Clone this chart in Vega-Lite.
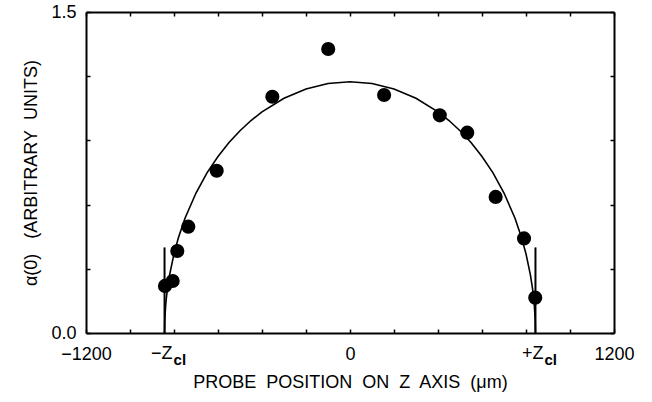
{
  "$schema": "https://vega.github.io/schema/vega-lite/v6.json",
  "autosize": "none",
  "width": 528,
  "height": 321,
  "padding": {"left": 86, "top": 12, "right": 38, "bottom": 69},
  "background": "white",
  "config": {
    "view": {"stroke": null},
    "font": "Liberation Sans",
    "axis": {
      "domainColor": "black", "domainWidth": 2,
      "tickColor": "black", "tickWidth": 1.5, "tickSize": -4,
      "labelColor": "black", "labelFontSize": 18, "labelFont": "Liberation Sans",
      "titleColor": "black", "titleFontSize": 18, "titleFontWeight": "normal", "titleFont": "Liberation Sans",
      "grid": false, "labelFlush": false, "labelOverlap": false, "labelBound": false
    }
  },
  "datasets": {
    "curve": [
      {"z": -843, "a": 0}, {"z": -842, "a": 0.057}, {"z": -838, "a": 0.128}, {"z": -835, "a": 0.161},
      {"z": -830, "a": 0.205}, {"z": -820, "a": 0.272}, {"z": -800, "a": 0.370}, {"z": -780, "a": 0.445},
      {"z": -750, "a": 0.536}, {"z": -700, "a": 0.654}, {"z": -650, "a": 0.748}, {"z": -600, "a": 0.825},
      {"z": -550, "a": 0.890}, {"z": -500, "a": 0.945}, {"z": -450, "a": 0.993}, {"z": -400, "a": 1.033},
      {"z": -300, "a": 1.097}, {"z": -200, "a": 1.140}, {"z": -100, "a": 1.166}, {"z": 0, "a": 1.174},
      {"z": 100, "a": 1.166}, {"z": 200, "a": 1.140}, {"z": 300, "a": 1.097}, {"z": 400, "a": 1.033},
      {"z": 450, "a": 0.993}, {"z": 500, "a": 0.945}, {"z": 550, "a": 0.890}, {"z": 600, "a": 0.825},
      {"z": 650, "a": 0.748}, {"z": 700, "a": 0.654}, {"z": 750, "a": 0.536}, {"z": 780, "a": 0.445},
      {"z": 800, "a": 0.370}, {"z": 820, "a": 0.272}, {"z": 830, "a": 0.205}, {"z": 835, "a": 0.161},
      {"z": 838, "a": 0.128}, {"z": 842, "a": 0.057}, {"z": 843, "a": 0}
    ],
    "points": [
      {"z": -841, "a": 0.220}, {"z": -806, "a": 0.243}, {"z": -785, "a": 0.383}, {"z": -735, "a": 0.497},
      {"z": -606, "a": 0.758}, {"z": -353, "a": 1.104}, {"z": -99, "a": 1.327}, {"z": 155, "a": 1.112},
      {"z": 408, "a": 1.017}, {"z": 533, "a": 0.936}, {"z": 662, "a": 0.636}, {"z": 791, "a": 0.442},
      {"z": 842, "a": 0.165}
    ],
    "zcl": [
      {"z": -843, "base": 0, "top": 0.40, "main": "−Z", "sub": "cl"},
      {"z": 843, "base": 0, "top": 0.40, "main": "+Z", "sub": "cl"}
    ]
  },
  "resolve": {"axis": {"x": "independent", "y": "independent"}},
  "layer": [
    {
      "data": {"name": "curve"},
      "mark": {"type": "line", "color": "black", "strokeWidth": 1.6, "interpolate": "linear"},
      "encoding": {
        "x": {"field": "z", "type": "quantitative", "scale": {"domain": [-1200, 1200], "nice": false, "zero": false},
          "axis": {"orient": "bottom", "values": [-1200, -1000, -800, -600, -400, -200, 0, 200, 400, 600, 800, 1000, 1200],
            "labelExpr": "abs(datum.value) == 1200 || datum.value == 0 ? format(datum.value, 'd') : ''",
            "labelPadding": 16, "title": "PROBE\u00a0 POSITION\u00a0 ON\u00a0 Z\u00a0 AXIS\u00a0 (μm)", "titlePadding": 10}},
        "y": {"field": "a", "type": "quantitative", "scale": {"domain": [0, 1.5], "nice": false},
          "axis": {"orient": "left", "values": [0, 0.3, 0.6, 0.9, 1.2, 1.5],
            "labelExpr": "datum.value == 0 || datum.value == 1.5 ? format(datum.value, '.1f') : ''",
            "labelPadding": 14, "title": "α(0)\u00a0\u00a0\u00a0(ARBITRARY\u00a0 UNITS)", "titlePadding": 10}}
      }
    },
    {
      "data": {"name": "zcl"},
      "mark": {"type": "rule", "color": "black", "strokeWidth": 2},
      "encoding": {
        "x": {"field": "z", "type": "quantitative", "axis": null},
        "y": {"field": "base", "type": "quantitative", "axis": null},
        "y2": {"field": "top"}
      }
    },
    {
      "data": {"name": "points"},
      "mark": {"type": "circle", "color": "black", "opacity": 1, "size": 200},
      "encoding": {
        "x": {"field": "z", "type": "quantitative",
          "axis": {"orient": "top", "values": [-1200, -1000, -800, -600, -400, -200, 0, 200, 400, 600, 800, 1000, 1200], "labels": false, "title": null}},
        "y": {"field": "a", "type": "quantitative",
          "axis": {"orient": "right", "values": [0, 0.3, 0.6, 0.9, 1.2, 1.5], "labels": false, "title": null}}
      }
    },
    {
      "data": {"name": "zcl"},
      "mark": {"type": "text", "color": "black", "fontSize": 18, "align": "right", "baseline": "alphabetic", "dx": 8, "dy": 26},
      "encoding": {
        "x": {"field": "z", "type": "quantitative", "axis": null},
        "y": {"field": "base", "type": "quantitative", "axis": null},
        "text": {"field": "main"}
      }
    },
    {
      "data": {"name": "zcl"},
      "mark": {"type": "text", "color": "black", "fontSize": 15, "fontWeight": "bold", "align": "left", "baseline": "alphabetic", "dx": 9, "dy": 32},
      "encoding": {
        "x": {"field": "z", "type": "quantitative", "axis": null},
        "y": {"field": "base", "type": "quantitative", "axis": null},
        "text": {"field": "sub"}
      }
    }
  ]
}
